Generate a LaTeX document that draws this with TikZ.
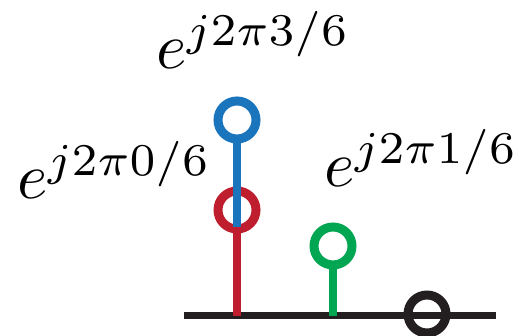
\documentclass[tikz,border=0pt]{standalone}
\definecolor{cblue}{HTML}{1B75BC}
\definecolor{cred}{HTML}{BE1E2D}
\definecolor{cgreen}{HTML}{00A651}
\definecolor{cblack}{HTML}{231F20}
\newcommand{\biglbl}[1]{\scalebox{6.5}{$#1$}}
\begin{document}
\begin{tikzpicture}[x=1pt,y=-1pt,
  ring/.style={circle,draw=#1,line width=9pt,minimum size=38pt,inner sep=0pt},
  stem/.style={line width=8pt,draw=#1},
  lbl/.style={anchor=base west,inner sep=0pt}]
\useasboundingbox (0,0) rectangle (522,336);
% axis
\coordinate (axL) at (184,316);
\coordinate (axR) at (496,316);
\draw[line width=7pt,cblack] (axL) -- (axR);
% red sample
\coordinate (b0) at (237,316);
\draw[stem=cred] (b0) -- (237,227);
\node[ring=cred,fill=white] (r0) at (237,210) {};
% blue sample
\node[ring=cblue,fill=white] (r3) at (237,120) {};
\coordinate (e3) at (237,227);
\draw[stem=cblue] (r3.south) -- (e3);
% green sample
\coordinate (b1) at (333,316);
\node[ring=cgreen,fill=white] (r1) at (333,246) {};
\draw[stem=cgreen] (b1) -- (r1.south);
% black sample
\node[ring=cblack] (r2) at (427,314) {};
% labels
\node[lbl] (l3) at (156,69) {\biglbl{e^{j2\pi3/6}}};
\node[lbl] (l0) at (17,199) {\biglbl{e^{j2\pi0/6}}};
\node[lbl] (l1) at (324,187) {\biglbl{e^{j2\pi1/6}}};
\end{tikzpicture}
\end{document}
